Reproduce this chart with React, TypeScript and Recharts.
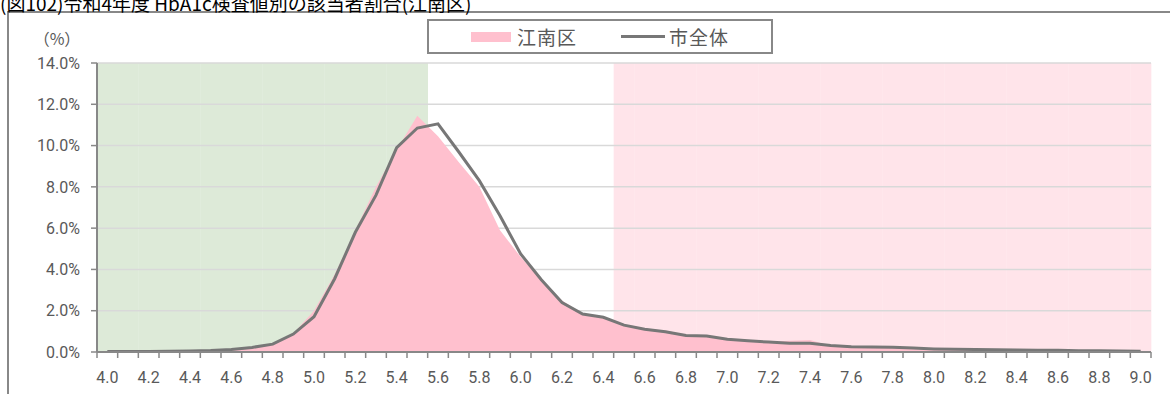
import React from "react";
import {
  ComposedChart,
  Bar,
  Area,
  Line,
  XAxis,
  YAxis,
  CartesianGrid,
  Legend,
  Label,
} from "recharts";

// HbA1c values (%), one category per 0.1
const hba1c = [
  "4.0", "4.1", "4.2", "4.3", "4.4", "4.5", "4.6", "4.7", "4.8", "4.9",
  "5.0", "5.1", "5.2", "5.3", "5.4", "5.5", "5.6", "5.7", "5.8", "5.9",
  "6.0", "6.1", "6.2", "6.3", "6.4", "6.5", "6.6", "6.7", "6.8", "6.9",
  "7.0", "7.1", "7.2", "7.3", "7.4", "7.5", "7.6", "7.7", "7.8", "7.9",
  "8.0", "8.1", "8.2", "8.3", "8.4", "8.5", "8.6", "8.7", "8.8", "8.9",
  "9.0",
];

// 江南区 share of examinees (%)
const konanku = [
  0.0, 0.01, 0.02, 0.02, 0.03, 0.05, 0.1, 0.2, 0.4, 0.9,
  2.0, 3.75, 5.9, 8.0, 9.8, 11.45, 10.45, 9.2, 8.0, 5.9,
  4.6, 3.5, 2.5, 1.85, 1.65, 1.3, 1.1, 1.05, 0.8, 0.78,
  0.6, 0.55, 0.5, 0.55, 0.58, 0.3, 0.25, 0.22, 0.2, 0.15,
  0.12, 0.1, 0.1, 0.08, 0.08, 0.06, 0.05, 0.03, 0.04, 0.04,
  0.03,
];

// 市全体 share of examinees (%)
const cityAll = [
  0.02, 0.03, 0.03, 0.04, 0.05, 0.07, 0.12, 0.22, 0.38, 0.87,
  1.71, 3.55, 5.8, 7.6, 9.9, 10.85, 11.05, 9.7, 8.3, 6.6,
  4.75, 3.5, 2.4, 1.84, 1.68, 1.3, 1.1, 0.98, 0.8, 0.78,
  0.62, 0.54, 0.48, 0.42, 0.42, 0.32, 0.26, 0.24, 0.23, 0.19,
  0.15, 0.13, 0.12, 0.11, 0.1, 0.09, 0.08, 0.06, 0.06, 0.05,
  0.04,
];

// shaded background ranges (normal range / diabetes range)
const normalBand = [
  14, 14, 14, 14, 14, 14, 14, 14, 14, 14,
  14, 14, 14, 14, 14, 14, 0, 0, 0, 0,
  0, 0, 0, 0, 0, 0, 0, 0, 0, 0,
  0, 0, 0, 0, 0, 0, 0, 0, 0, 0,
  0, 0, 0, 0, 0, 0, 0, 0, 0, 0,
  0,
];
const diabetesBand = [
  0, 0, 0, 0, 0, 0, 0, 0, 0, 0,
  0, 0, 0, 0, 0, 0, 0, 0, 0, 0,
  0, 0, 0, 0, 0, 14, 14, 14, 14, 14,
  14, 14, 14, 14, 14, 14, 14, 14, 14, 14,
  14, 14, 14, 14, 14, 14, 14, 14, 14, 14,
  14,
];

const yTicks = [0, 2, 4, 6, 8, 10, 12, 14];

const data = hba1c.map((v, i) => ({
  v,
  normal: normalBand[i],
  diabetes: diabetesBand[i],
  konan: konanku[i],
  city: cityAll[i],
}));

const W = 1170;
const H = 394;
const PLOT_LEFT = 97;
const PLOT_RIGHT = 1151;
const BAND = (PLOT_RIGHT - PLOT_LEFT) / hba1c.length;
const X_TICK_GAP = 20;
const AXIS = "#888888";
const TEXT = "#595959";
const FONT = "Roboto, 'Noto Sans CJK JP', sans-serif";

function XTick(props: any) {
  const { x, y, payload } = props;
  const index = props.index ?? payload.index;
  const axisY = y - X_TICK_GAP;
  const left = x - BAND / 2;
  return (
    <g>
      <line x1={left} x2={left} y1={axisY} y2={axisY + 6} stroke={AXIS} strokeWidth={1.5} />
      {index === hba1c.length - 1 && (
        <line x1={x + BAND / 2} x2={x + BAND / 2} y1={axisY} y2={axisY + 6} stroke={AXIS} strokeWidth={1.5} />
      )}
      {index % 2 === 0 && (
        <text x={x} y={y} dy="0.71em" textAnchor="middle" fill={TEXT} fontSize={16} fontFamily={FONT}>
          {payload.value}
        </text>
      )}
    </g>
  );
}

function LegendBox(props: any) {
  const items = (props.payload || [])
    .filter((p: any) => p.type !== "none")
    .sort((a: any, b: any) => (a.type === "rect" ? -1 : 0) - (b.type === "rect" ? -1 : 0));
  return (
    <div
      style={{
        boxSizing: "border-box",
        width: 346,
        height: 35,
        border: `2px solid ${AXIS}`,
        background: "#fff",
        display: "flex",
        alignItems: "center",
        justifyContent: "center",
        gap: 44,
        fontFamily: FONT,
        fontSize: 19,
        color: TEXT,
      }}
    >
      {items.map((p: any) => (
        <div key={p.value} style={{ display: "flex", alignItems: "center" }}>
          {p.type === "rect" ? (
            <span style={{ display: "inline-block", width: 40, height: 10, background: p.color, marginRight: 6 }} />
          ) : (
            <span style={{ display: "inline-block", width: 44, height: 3, background: p.color, marginRight: 4 }} />
          )}
          <span style={{ letterSpacing: 1 }}>{p.value}</span>
        </div>
      ))}
    </div>
  );
}

export default function App() {
  return (
    <div style={{ position: "absolute", left: 0, top: 0, width: W, height: H, overflow: "hidden", background: "#fff" }}>
      <div
        style={{
          position: "absolute",
          left: 7,
          top: 11,
          width: W + 20,
          height: H + 20,
          borderLeft: `2px solid ${AXIS}`,
          borderTop: `2px solid ${AXIS}`,
        }}
      />
      <div
        style={{
          position: "absolute",
          left: 0,
          top: -7,
          fontFamily: "'Noto Sans CJK JP', sans-serif",
          fontSize: 19,
          lineHeight: "19px",
          color: "#000",
          whiteSpace: "nowrap",
        }}
      >
        (図102)令和4年度 HbA1c検査値別の該当者割合(江南区)
      </div>
      <div style={{ position: "absolute", left: 0, top: 0 }}>
        <ComposedChart
          width={W}
          height={H}
          data={data}
          margin={{ top: 63, right: W - PLOT_RIGHT, bottom: 12, left: 37 }}
          barCategoryGap={0}
          barGap={0}
        >
          <Bar dataKey="normal" stackId="bg" fill="#DDEAD8" legendType="none" isAnimationActive={false} zIndex={-150} />
          <Bar dataKey="diabetes" stackId="bg" fill="#FFE4EA" legendType="none" isAnimationActive={false} zIndex={-150} />
          <CartesianGrid vertical={false} stroke="#d9d9d9" strokeWidth={1.5} />
          <XAxis
            dataKey="v"
            interval={0}
            height={30}
            tickSize={0}
            tickMargin={X_TICK_GAP}
            tickLine={false}
            axisLine={{ stroke: AXIS, strokeWidth: 2 }}
            tick={<XTick />}
          />
          <YAxis
            width={60}
            domain={[0, 14]}
            ticks={yTicks}
            allowDataOverflow
            tickFormatter={(v: number) => `${v.toFixed(1)}%`}
            tick={{ fill: TEXT, fontSize: 16, fontFamily: FONT }}
            tickSize={6}
            tickMargin={11}
            tickLine={{ stroke: AXIS, strokeWidth: 1.5 }}
            axisLine={{ stroke: AXIS, strokeWidth: 2 }}
          >
            <Label
              value="（%）"
              position="top"
              offset={18}
              dx={-10}
              fill={TEXT}
              fontSize={16}
              fontFamily="'Noto Sans CJK JP', sans-serif"
            />
          </YAxis>
          <Area
            type="linear"
            dataKey="konan"
            name="江南区"
            fill="#FFC0CE"
            fillOpacity={1}
            stroke="none"
            legendType="rect"
            isAnimationActive={false}
          />
          <Line
            type="linear"
            dataKey="city"
            name="市全体"
            stroke="#777777"
            strokeWidth={3}
            dot={false}
            legendType="line"
            isAnimationActive={false}
          />
          <Legend
            layout="horizontal"
            verticalAlign="middle"
            align="center"
            content={<LegendBox />}
            wrapperStyle={{ top: 19, left: 427, width: 346, height: 35 }}
          />
        </ComposedChart>
      </div>
    </div>
  );
}
